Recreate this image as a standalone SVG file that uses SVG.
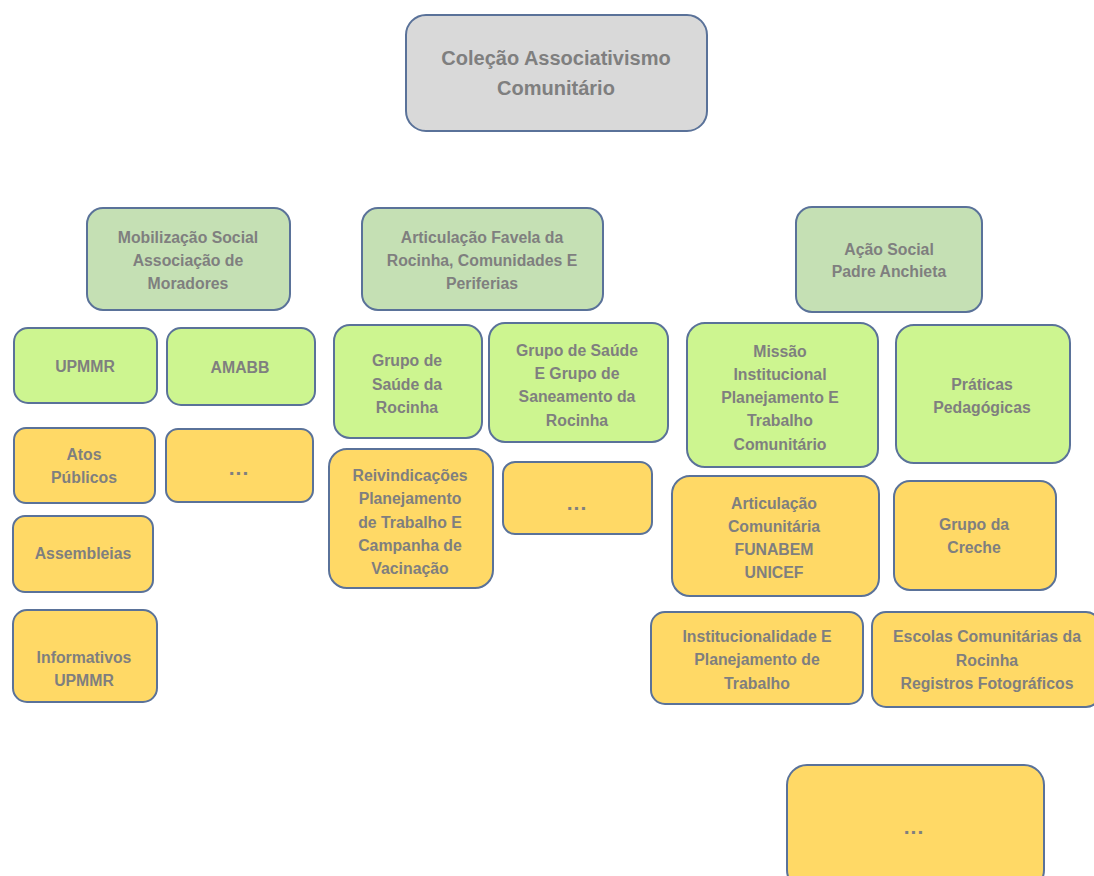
<svg xmlns="http://www.w3.org/2000/svg" width="1094" height="876" viewBox="0 0 1094 876">
<style>
rect{stroke:#5a7299;stroke-width:2}
.g0{fill:#d9d9d9}
.g1{fill:#c5e0b4}
.g2{fill:#cdf590}
.g3{fill:#ffd966}
text{font-family:"Liberation Sans",Arial,sans-serif;font-weight:bold;font-size:15.8px;fill:#7f7f7f;text-anchor:middle;dominant-baseline:central}
.t0{font-size:20px}
.d{font-size:21px;letter-spacing:1px}
</style>
<rect width="1094" height="876" fill="#ffffff" style="stroke:none"/>
<g id="connectors"></g>
<g id="root"><rect class="g0" x="406" y="15" width="301" height="116" rx="20"/>
<text class="t0" x="556" y="58">Coleção Associativismo</text><text class="t0" x="556" y="88">Comunitário</text></g>

<g id="mobilizacao"><rect class="g1" x="87" y="208" width="203" height="102" rx="16"/>
<text x="188" y="237">Mobilização Social</text><text x="188" y="260">Associação de</text><text x="188" y="283">Moradores</text></g>
<g id="articulacao"><rect class="g1" x="362" y="208" width="241" height="102" rx="16"/>
<text x="482" y="237">Articulação Favela da</text><text x="482" y="260">Rocinha, Comunidades E</text><text x="482" y="283">Periferias</text></g>
<g id="acao"><rect class="g1" x="796" y="207" width="186" height="105" rx="16"/>
<text x="889" y="249">Ação Social</text><text x="889" y="271">Padre Anchieta</text></g>

<g id="upmmr"><rect class="g2" x="14" y="328" width="143" height="75" rx="14"/><text x="85" y="366">UPMMR</text></g>
<g id="amabb"><rect class="g2" x="167" y="328" width="148" height="77" rx="14"/><text x="240" y="367">AMABB</text></g>
<g id="grupo-saude"><rect class="g2" x="334" y="325" width="148" height="113" rx="16"/>
<text x="407" y="360">Grupo de</text><text x="407" y="384">Saúde da</text><text x="407" y="407">Rocinha</text></g>
<g id="grupo-saneamento"><rect class="g2" x="489" y="323" width="179" height="119" rx="16"/>
<text x="577" y="350">Grupo de Saúde</text><text x="577" y="373">E Grupo de</text><text x="577" y="396">Saneamento da</text><text x="577" y="420">Rocinha</text></g>
<g id="missao"><rect class="g2" x="687" y="323" width="191" height="144" rx="18"/>
<text x="780" y="351">Missão</text><text x="780" y="374">Institucional</text><text x="780" y="397">Planejamento E</text><text x="780" y="420">Trabalho</text><text x="780" y="444">Comunitário</text></g>
<g id="praticas"><rect class="g2" x="896" y="325" width="174" height="138" rx="18"/>
<text x="982" y="384">Práticas</text><text x="982" y="407">Pedagógicas</text></g>

<g id="atos"><rect class="g3" x="14" y="428" width="141" height="75" rx="12"/>
<text x="84" y="454">Atos</text><text x="84" y="477">Públicos</text></g>
<g id="etc1"><rect class="g3" x="166" y="429" width="147" height="73" rx="12"/><text class="d" x="239" y="467">...</text></g>
<g id="assembleias"><rect class="g3" x="13" y="516" width="140" height="76" rx="12"/><text x="83" y="553">Assembleias</text></g>
<g id="informativos"><rect class="g3" x="13" y="610" width="144" height="92" rx="14"/>
<text x="84" y="657">Informativos</text><text x="84" y="680">UPMMR</text></g>
<g id="reivindicacoes"><rect class="g3" x="329" y="449" width="164" height="139" rx="18"/>
<text x="410" y="475">Reivindicações</text><text x="410" y="498">Planejamento</text><text x="410" y="522">de Trabalho E</text><text x="410" y="545">Campanha de</text><text x="410" y="568">Vacinação</text></g>
<g id="etc2"><rect class="g3" x="503" y="462" width="149" height="72" rx="12"/><text class="d" x="577" y="502">...</text></g>
<g id="articulacao-comunitaria"><rect class="g3" x="672" y="476" width="207" height="120" rx="18"/>
<text x="774" y="503">Articulação</text><text x="774" y="526">Comunitária</text><text x="774" y="549">FUNABEM</text><text x="774" y="572">UNICEF</text></g>
<g id="creche"><rect class="g3" x="894" y="481" width="162" height="109" rx="16"/>
<text x="974" y="524">Grupo da</text><text x="974" y="547">Creche</text></g>
<g id="institucionalidade"><rect class="g3" x="651" y="612" width="212" height="92" rx="14"/>
<text x="757" y="636">Institucionalidade E</text><text x="757" y="659">Planejamento de</text><text x="757" y="683">Trabalho</text></g>
<g id="escolas"><rect class="g3" x="872" y="612" width="228" height="95" rx="14"/>
<text x="987" y="636">Escolas Comunitárias da</text><text x="987" y="660">Rocinha</text><text x="987" y="683">Registros Fotográficos</text></g>
<g id="etc3"><rect class="g3" x="787" y="765" width="257" height="125" rx="20"/><text class="d" x="914" y="826">...</text></g>
</svg>
